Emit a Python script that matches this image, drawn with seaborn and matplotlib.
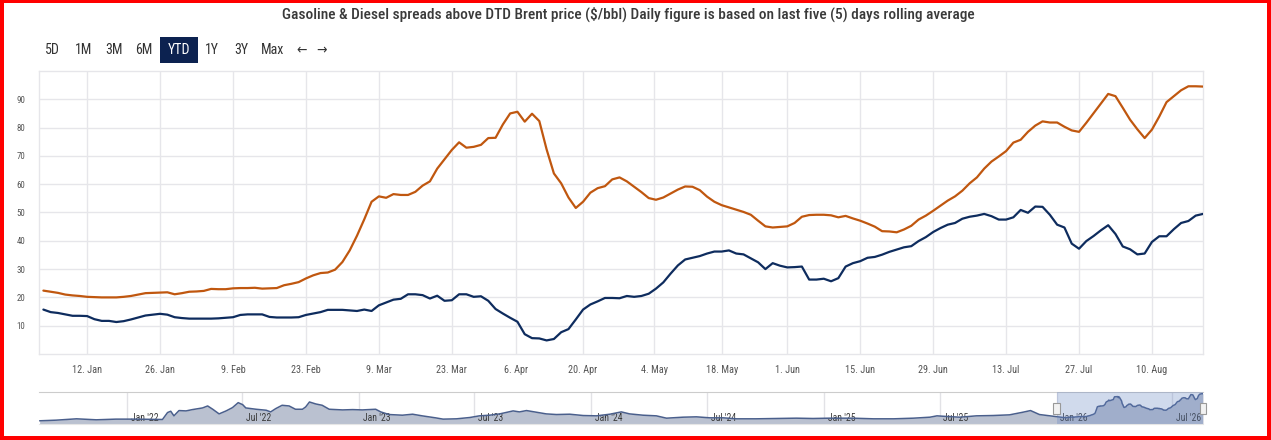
import matplotlib
matplotlib.use("Agg")
import matplotlib.pyplot as plt
import matplotlib.transforms as mtransforms
from matplotlib.patches import Rectangle
import numpy as np
import pandas as pd
import seaborn as sns

# ---- data -------------------------------------------------------------
title = ("Gasoline & Diesel spreads above DTD Brent price ($/bbl) "
         "Daily figure is based on last five (5) days rolling average")

# trading calendar 2026 (weekdays without these holidays)
start, end = "2026-01-01", "2026-08-19"
holidays = ["2026-01-01", "2026-04-03", "2026-04-06", "2026-05-04", "2026-05-25"]

# orange series (one value per trading day)
diesel = [
    22.4, 22.0, 21.6, 21.0, 20.7, 20.5, 20.2, 20.1, 20.0, 20.0,
    20.0, 20.2, 20.5, 21.0, 21.5, 21.6, 21.7, 21.8, 21.1, 21.5,
    22.0, 22.1, 22.3, 23.0, 22.9, 22.9, 23.2, 23.3, 23.3, 23.4,
    23.1, 23.2, 23.3, 24.3, 24.8, 25.4, 26.7, 27.8, 28.6, 28.8,
    29.8, 32.5, 36.6, 41.8, 47.6, 53.8, 55.7, 55.2, 56.5, 56.2,
    56.2, 57.3, 59.5, 61.0, 65.5, 68.8, 72.1, 74.8, 72.9, 73.2,
    73.9, 76.3, 76.4, 81.1, 85.0, 85.6, 82.1, 84.9, 82.3, 72.3,
    63.8, 60.3, 55.3, 51.6, 53.8, 57.0, 58.6, 59.3, 61.7, 62.4,
    61.0, 59.1, 57.2, 55.1, 54.5, 55.3, 56.7, 58.1, 59.2, 59.1,
    57.9, 55.6, 53.8, 52.6, 51.8, 51.0, 50.2, 49.2, 47.1, 45.1,
    44.7, 44.9, 45.1, 46.3, 48.5, 49.1, 49.2, 49.2, 49.0, 48.3,
    48.8, 47.9, 47.1, 46.1, 45.0, 43.4, 43.3, 43.0, 44.0, 45.3,
    47.5, 48.9, 50.6, 52.4, 54.2, 55.7, 57.7, 60.3, 62.4, 65.5,
    68.0, 69.8, 71.7, 74.7, 75.7, 78.5, 80.7, 82.2, 81.8, 81.8,
    80.3, 79.0, 78.5, 81.7, 85.1, 88.5, 91.9, 91.1, 87.0, 82.8,
    79.4, 76.3, 79.3, 83.9, 89.0, 91.1, 93.2, 94.6, 94.6, 94.5,
]

# navy series
gasoline = [
    15.7, 14.8, 14.5, 14.0, 13.5, 13.5, 13.4, 12.3, 11.7, 11.7,
    11.3, 11.6, 12.2, 12.9, 13.6, 13.9, 14.2, 13.9, 13.0, 12.7,
    12.5, 12.5, 12.5, 12.5, 12.6, 12.8, 13.0, 13.8, 14.0, 14.0,
    14.0, 13.1, 12.9, 12.9, 12.9, 13.0, 13.8, 14.3, 14.8, 15.6,
    15.6, 15.6, 15.4, 15.2, 15.7, 15.2, 17.2, 18.2, 19.2, 19.5,
    21.1, 21.1, 20.8, 19.6, 20.6, 18.8, 19.0, 21.1, 21.1, 20.2,
    20.4, 18.8, 15.9, 14.3, 12.8, 11.4, 7.0, 5.6, 5.5, 4.8,
    5.3, 7.7, 8.8, 12.2, 15.7, 17.5, 18.6, 19.8, 19.8, 19.7,
    20.5, 20.2, 20.5, 21.3, 23.1, 25.3, 28.4, 31.3, 33.4, 34.0,
    34.6, 35.5, 36.2, 36.2, 36.6, 35.5, 35.2, 33.8, 32.4, 30.0,
    32.1, 31.2, 30.6, 30.7, 30.9, 26.3, 26.3, 26.6, 25.7, 26.8,
    30.9, 32.1, 32.8, 34.0, 34.3, 35.1, 36.1, 36.9, 37.7, 38.1,
    39.9, 41.3, 43.1, 44.5, 45.7, 46.3, 47.8, 48.5, 48.9, 49.5,
    48.7, 47.5, 47.5, 48.3, 50.9, 49.9, 52.1, 52.0, 49.2, 45.7,
    44.7, 39.0, 37.2, 39.9, 41.7, 43.7, 45.5, 42.4, 38.0, 37.0,
    35.2, 35.5, 39.6, 41.6, 41.6, 44.1, 46.3, 47.0, 48.9, 49.5,
]

tick_dates = ["2026-01-12", "2026-01-26", "2026-02-09", "2026-02-23",
              "2026-03-09", "2026-03-23", "2026-04-06", "2026-04-20",
              "2026-05-04", "2026-05-18", "2026-06-01", "2026-06-15",
              "2026-06-29", "2026-07-13", "2026-07-27", "2026-08-10"]
tick_labels = ["12. Jan", "26. Jan", "9. Feb", "23. Feb", "9. Mar", "23. Mar",
               "6. Apr", "20. Apr", "4. May", "18. May", "1. Jun", "15. Jun",
               "29. Jun", "13. Jul", "27. Jul", "10. Aug"]
y_ticks = [10, 20, 30, 40, 50, 60, 70, 80, 90]

# navigator history of the orange series before 2026
hist_dates = [
    "2021-08-17", "2021-09-12", "2021-10-14", "2021-11-14", "2021-12-15",
    "2022-01-15", "2022-02-26", "2022-03-06", "2022-03-11", "2022-03-16",
    "2022-03-24", "2022-04-04", "2022-04-14", "2022-04-30", "2022-05-08",
    "2022-05-16", "2022-05-26", "2022-06-06", "2022-06-16", "2022-06-25",
    "2022-07-02", "2022-07-07", "2022-07-23", "2022-08-08", "2022-08-15",
    "2022-08-23", "2022-09-02", "2022-09-13", "2022-09-23", "2022-10-04",
    "2022-10-09", "2022-10-15", "2022-10-25", "2022-11-04", "2022-11-15",
    "2022-12-06", "2022-12-22", "2023-01-06", "2023-01-17", "2023-01-27",
    "2023-02-04", "2023-02-17", "2023-03-10", "2023-03-26", "2023-04-10",
    "2023-05-01", "2023-05-13", "2023-06-03", "2023-06-24", "2023-07-09",
    "2023-07-25", "2023-08-10", "2023-08-31", "2023-09-10", "2023-09-21",
    "2023-10-06", "2023-10-22", "2023-11-07", "2023-11-28", "2023-12-19",
    "2024-01-09", "2024-01-30", "2024-02-17", "2024-03-01", "2024-03-22",
    "2024-04-12", "2024-04-28", "2024-05-24", "2024-06-14", "2024-07-05",
    "2024-07-26", "2024-08-16", "2024-09-16", "2024-10-18", "2024-11-18",
    "2024-12-14", "2025-01-09", "2025-02-15", "2025-03-19", "2025-04-20",
    "2025-05-21", "2025-06-16", "2025-06-27", "2025-07-13", "2025-08-02",
    "2025-08-28", "2025-09-23", "2025-10-19", "2025-11-09", "2025-11-21",
    "2025-12-05", "2025-12-21",
]
hist_values = [
    10.0, 12.0, 16.2, 13.1, 15.2,
    15.2, 14.1, 35.8, 39.9, 25.5,
    42.0, 40.9, 45.0, 50.2, 56.4,
    46.1, 31.6, 40.9, 51.2, 66.7,
    60.5, 50.2, 46.1, 43.0, 37.8,
    48.1, 58.5, 56.4, 46.1, 46.1,
    53.3, 68.8, 62.6, 58.5, 46.1,
    44.0, 45.0, 44.0, 45.0, 46.1,
    37.8, 29.6, 27.5, 30.6, 25.5,
    19.3, 15.2, 16.2, 20.3, 25.5,
    27.5, 31.6, 40.9, 37.8, 42.0,
    36.8, 31.6, 29.6, 30.6, 26.5,
    25.5, 30.6, 37.8, 31.6, 27.5,
    25.5, 18.2, 21.3, 22.4, 19.3,
    19.3, 16.2, 16.2, 17.2, 18.2,
    17.2, 18.2, 18.2, 16.2, 16.2,
    18.2, 21.3, 25.5, 23.4, 21.3,
    25.5, 26.5, 28.6, 36.8, 42.0,
    29.6, 25.5,
]

nav_tick_dates = ["2022-01-01", "2022-07-01", "2023-01-01", "2023-07-01",
                  "2024-01-01", "2024-07-01", "2025-01-01", "2025-07-01",
                  "2026-01-01", "2026-07-01"]
nav_tick_labels = ["Jan '22", "Jul '22", "Jan '23", "Jul '23", "Jan '24",
                   "Jul '24", "Jan '25", "Jul '25", "Jan '26", "Jul '26"]

buttons = ["5D", "1M", "3M", "6M", "YTD", "1Y", "3Y", "Max", "\u2190", "\u2192"]
selected = "YTD"

# ---- style ------------------------------------------------------------
sns.set_style("white")
NARROW = ["Roboto Condensed", "Liberation Sans Narrow", "DejaVu Sans Condensed",
          "Liberation Sans", "DejaVu Sans"]
plt.rcParams["font.family"] = NARROW
plt.rcParams["font.stretch"] = "condensed"

ORANGE = "#c0570f"
NAVY = "#0e2c5e"
GRID = "#e6e6ea"
W, H = 1271, 440

fig = plt.figure(figsize=(W / 100, H / 100), dpi=100)


def rect(x0, y0, x1, y1):
    # pixel box (top-left origin) -> figure fraction rect
    return [x0 / W, 1 - y1 / H, (x1 - x0) / W, (y1 - y0) / H]


# ---- main chart -------------------------------------------------------
days = pd.bdate_range(start, end)
days = days[~days.isin(pd.to_datetime(holidays))]
session = np.arange(len(days))

df = pd.DataFrame({"session": session, "Diesel": diesel, "Gasoline": gasoline})
long = df.melt(id_vars="session", var_name="series", value_name="spread")

ax = fig.add_axes(rect(39, 71, 1203, 354))
sns.lineplot(data=long, x="session", y="spread", hue="series",
             palette={"Diesel": ORANGE, "Gasoline": NAVY},
             linewidth=1.6, legend=False, ax=ax, zorder=3)

tick_pos = np.interp(pd.to_datetime(tick_dates).asi8, days.asi8, session)
ax.set_xlim(-0.6, session[-1])
ax.set_ylim(0, 100)
ax.set_xticks(tick_pos)
ax.set_xticklabels(tick_labels)
ax.set_yticks(y_ticks)
ax.set_xlabel("")
ax.set_ylabel("")
ax.tick_params(axis="x", length=0, pad=8, labelsize=7.4, labelcolor="#555555")
ax.tick_params(axis="y", length=0, pad=13, labelsize=6.4, labelcolor="#555555")
for t in ax.get_yticklabels():
    t.set_horizontalalignment("center")
ax.grid(True, color=GRID, linewidth=1.0)
ax.set_axisbelow(True)
for s in ax.spines.values():
    s.set_color(GRID)
    s.set_linewidth(1.0)

# ---- navigator --------------------------------------------------------
nav_dates = pd.to_datetime(hist_dates).append(days)
nav_vals = hist_values + diesel
nav = pd.DataFrame({"date": nav_dates, "value": nav_vals})

axn = fig.add_axes(rect(39, 392, 1203, 424))
axn.fill_between(nav["date"], nav["value"], 0, color="#bac1d0", zorder=2, linewidth=0)
sns.lineplot(data=nav, x="date", y="value", color="#4a5f8c", linewidth=1.1,
             ax=axn, zorder=3)
axn.set_xlim(pd.Timestamp("2021-08-16"), days[-1])
axn.set_ylim(0, 100)
axn.set_xticks([])
axn.set_yticks([])
axn.set_xlabel("")
axn.set_ylabel("")
for d in pd.to_datetime(nav_tick_dates):
    axn.axvline(d, color="#e2e2e6", linewidth=1.0, zorder=1)
blend = mtransforms.blended_transform_factory(axn.transData, axn.transAxes)
for d, lab in zip(pd.to_datetime(nav_tick_dates), nav_tick_labels):
    axn.text(d + pd.Timedelta(days=6), 0.2, lab, transform=blend, fontsize=7,
             color="#3a3a3a", va="center", ha="left", zorder=2.5)
# selected range (YTD)
sel0 = days[0] - pd.Timedelta(days=1)
axn.axvspan(sel0, days[-1], color=(102 / 255, 133 / 255, 194 / 255),
            alpha=0.3, zorder=4, linewidth=0)
for d in [sel0, days[-1]]:
    axn.add_patch(Rectangle((d - pd.Timedelta(days=5), 0.3), pd.Timedelta(days=10), 0.36,
                            transform=blend, facecolor="#f2f2f2", edgecolor="#999999",
                            linewidth=0.8, zorder=6, clip_on=False))
for s in ["left", "right"]:
    axn.spines[s].set_visible(False)
axn.spines["top"].set_color("#cccccc")
axn.spines["bottom"].set_color("#e6e6e6")

# ---- title and range buttons -----------------------------------------
ttl = fig.text(628 / W, 1 - 14 / H, title, ha="center", va="center", fontsize=13,
               color="#3a3a3a", fontweight="medium")
fig.canvas.draw()
tw = ttl.get_window_extent().width
if tw > 700:
    ttl.set_fontsize(13 * 693 / tw)

btn_x = [52, 84, 114, 144, 179, 212, 241, 273, 302, 322]
for x, lab in zip(btn_x, buttons):
    color = "#333333"
    if lab == selected:
        fig.add_artist(Rectangle((160 / W, 1 - 63 / H), 38 / W, 26 / H,
                                 transform=fig.transFigure, facecolor="#0c2250",
                                 edgecolor="none"))
        color = "white"
    fam = ["DejaVu Sans"] if lab in ("\u2190", "\u2192") else NARROW
    fig.text(x / W, 1 - 50 / H, lab, ha="center", va="center", fontsize=10,
             color=color, family=fam)

# red frame
for r in [rect(0, 0, 4, H), rect(0, 0, W, 3), rect(1267, 0, W, H), rect(0, 436, W, H)]:
    fig.add_artist(Rectangle((r[0], r[1]), r[2], r[3], transform=fig.transFigure,
                             facecolor="#ff0000", edgecolor="none"))

fig.savefig("out.png", dpi=100)
